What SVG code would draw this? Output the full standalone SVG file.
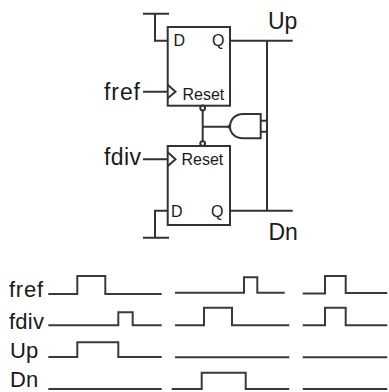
<svg xmlns="http://www.w3.org/2000/svg" width="389" height="392" viewBox="0 0 389 392">
<style>
.w{fill:none;stroke:#333;stroke-width:2;stroke-linejoin:miter}
.t{stroke-width:2;stroke:#3a3a3a;fill:none}
text{font-family:"Liberation Sans",Arial,sans-serif;fill:#1a1a1a}
.big{font-size:23px}
.lab{font-size:22px}
.sm{font-size:16px}
.sr{font-size:16px}
</style>
<rect width="389" height="392" fill="#fff"/>
<g id="connectors">
<path class="w" d="M143 13.700H169M155 13.700V40.700H168"/>
<path class="w" d="M230 40.700H292.700M267 40.700V210.700M230 210.700H292.700"/>
<path class="w" d="M143 237.700H169M155 237.700V210.700H168"/>
<path class="w" d="M143 91.700H168M143 159.300H168"/>
<path class="w" d="M202.700 110V141M202.700 126.700H228"/>
<path class="w" d="M260.700 120.700H267M260.700 131.700H267"/>
</g>
<g id="ff-top">
<rect class="w" x="167.700" y="27" width="62.300" height="78.700"/>
<path class="w" d="M168 85L175.500 91.700L168 98"/>
<circle class="w" cx="202.700" cy="108" r="2.400" fill="#fff"/>
<text class="sm" x="173.500" y="46">D</text>
<text class="sm" x="212" y="46">Q</text>
<text class="sr" x="182.500" y="100">Reset</text>
</g>
<g id="ff-bottom">
<rect class="w" x="167.700" y="146" width="62.300" height="79"/>
<path class="w" d="M168 152.600L175.500 159.300L168 166"/>
<circle class="w" cx="202.700" cy="143.600" r="2.400" fill="#fff"/>
<text class="sm" x="171" y="217">D</text>
<text class="sm" x="211" y="217">Q</text>
<text class="sr" x="181.500" y="165">Reset</text>
</g>
<g id="gate">
<path class="w" d="M260.700 114H243C235 114 230 120 230 126.500C230 133 235 138.300 243 138.300H260.700V114Z"/>
<path d="M226.500 126.700L230.500 123.500V130Z" fill="#333"/>
</g>
<g id="labels">
<text class="big" x="104" y="100" textLength="36">fref</text>
<text class="big" x="104" y="165" textLength="37">fdiv</text>
<text class="big" x="268" y="28.500">Up</text>
<text class="big" x="268.500" y="240">Dn</text>
</g>
<g id="waveforms">
<path class="t" d="M48.300 294H77.300V276H105.300V294H161.700"/>
<path class="t" d="M48.300 325.300H118.300V312.300H132.700V325.300H161.700"/>
<path class="t" d="M48.300 357H77.300V342.300H118.300V357H161.700"/>
<path class="t" d="M48.300 389H161.700"/>
<path class="t" d="M175 292.800H244V277.300H257.300V292.800H284.700"/>
<path class="t" d="M175 325.300H204V307.700H232V325.300H289.300"/>
<path class="t" d="M175 357.300H289.300"/>
<path class="t" d="M171.700 389H201.700V372.700H245.700V389H289.300"/>
<path class="t" d="M302.700 293.500H325V276H345.700V293H387.300"/>
<path class="t" d="M302.700 325.300H325V307.700H345.700V325.300H387.300"/>
<path class="t" d="M302.700 357.300H387.300"/>
<path class="t" d="M302.700 389H387.300"/>
<text class="lab" x="9" y="297" textLength="34">fref</text>
<text class="lab" x="9" y="329" textLength="35">fdiv</text>
<text class="lab" x="10" y="358">Up</text>
<text class="lab" x="10" y="387.200">Dn</text>
</g>
</svg>
